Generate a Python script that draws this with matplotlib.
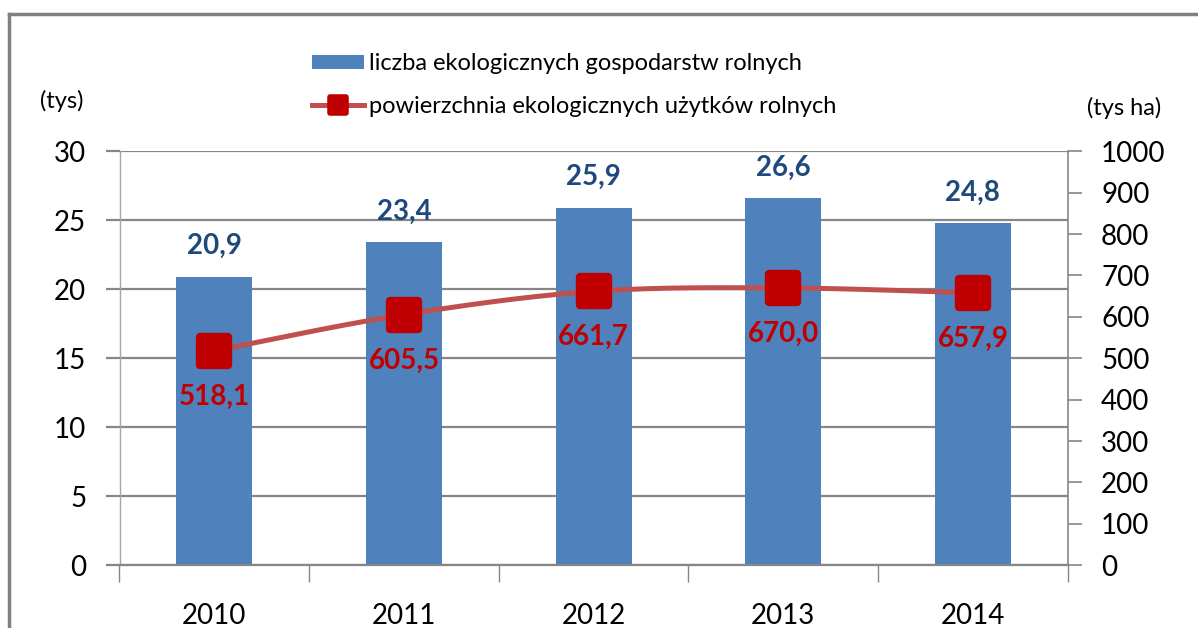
import numpy as np
import matplotlib
matplotlib.use("Agg")
import matplotlib.pyplot as plt
from matplotlib.lines import Line2D
from matplotlib.patches import Patch
from matplotlib.markers import MarkerStyle

plt.rcParams['font.family'] = ['Lato', 'DejaVu Sans']

years = ['2010', '2011', '2012', '2013', '2014']
farms = [20.9, 23.4, 25.9, 26.6, 24.8]          # tys
area = [518.1, 605.5, 661.7, 670.0, 657.9]       # tys ha
farm_labels = ['20,9', '23,4', '25,9', '26,6', '24,8']
area_labels = ['518,1', '605,5', '661,7', '670,0', '657,9']
left_ticks = [0, 5, 10, 15, 20, 25, 30]
right_ticks = [0, 100, 200, 300, 400, 500, 600, 700, 800, 900, 1000]
legend_labels = ['liczba ekologicznych gospodarstw rolnych',
                 'powierzchnia ekologicznych użytków rolnych']

BAR = '#4F81BD'
LINE = '#C0504D'
MARK = '#C00000'
NAVY = '#1F497D'
GRID = '#868686'

W, H = 1198, 628
fig = plt.figure(figsize=(W / 100, H / 100), dpi=100)
ax = fig.add_axes([119.5 / W, 1 - 565.3 / H, (1067.7 - 119.5) / W, (565.3 - 151.3) / H])

x = np.arange(len(years))
ax.bar(x, farms, width=0.4, color=BAR, zorder=2)
ax.set_xlim(-0.5, len(years) - 0.5)
ax.set_ylim(0, 30)
ax.set_yticks(left_ticks)
ax.set_yticklabels([str(t) for t in left_ticks])
ax.yaxis.grid(True, color=GRID, linewidth=1.6, zorder=0)
ax.set_axisbelow(True)
ax.tick_params(axis='y', length=10, width=1.6, color=GRID, pad=14, labelsize=20)
ax.set_xticks(x)
ax.set_xticklabels(years)
ax.tick_params(axis='x', length=0, pad=27, labelsize=20)
ax.set_xticks(np.arange(len(years) + 1) - 0.5, minor=True)
ax.tick_params(axis='x', which='minor', length=12, width=1, color=GRID)
for s in ['top', 'right']:
    ax.spines[s].set_visible(False)
ax.spines['left'].set_color('#A6A6A6')
ax.spines['left'].set_linewidth(1)
ax.spines['bottom'].set_color(GRID)
ax.spines['bottom'].set_linewidth(1.6)

for xi, v, lab in zip(x, farms, farm_labels):
    ax.annotate(lab, (xi, v), xytext=(0, 22), textcoords='offset points',
                ha='center', va='center', fontsize=20, fontweight='bold', color=NAVY)

ax2 = ax.twinx()
ax2.set_ylim(0, 1000)
ax2.set_yticks(right_ticks)
ax2.set_yticklabels([str(t) for t in right_ticks])
ax2.tick_params(axis='y', length=10, width=1.2, color=GRID, pad=14, labelsize=20)
for s in ['top', 'left', 'bottom']:
    ax2.spines[s].set_visible(False)
ax2.spines['right'].set_color(GRID)
ax2.spines['right'].set_linewidth(1.2)

# smoothed line (Catmull-Rom like Excel smoothing)
px = x.astype(float)
py = np.array(area, dtype=float)
cx, cy = [], []
n = len(px)
for i in range(n - 1):
    p0 = (px[max(i - 1, 0)], py[max(i - 1, 0)])
    p1 = (px[i], py[i])
    p2 = (px[i + 1], py[i + 1])
    p3 = (px[min(i + 2, n - 1)], py[min(i + 2, n - 1)])
    b1 = (p1[0] + (p2[0] - p0[0]) / 6, p1[1] + (p2[1] - p0[1]) / 6)
    b2 = (p2[0] - (p3[0] - p1[0]) / 6, p2[1] - (p3[1] - p1[1]) / 6)
    t = np.linspace(0, 1, 40)
    for a, c in ((0, cx), (1, cy)):
        c.extend((1 - t) ** 3 * p1[a] + 3 * (1 - t) ** 2 * t * b1[a]
                 + 3 * (1 - t) * t ** 2 * b2[a] + t ** 3 * p2[a])
ax2.plot(cx, cy, color=LINE, linewidth=3.6, solid_capstyle='butt', zorder=3)
mk = MarkerStyle('s', joinstyle='round')
ax2.plot(x, area, linestyle='none', marker=mk, markersize=20, markerfacecolor=MARK,
         markeredgecolor=MARK, markeredgewidth=6, zorder=4)
for xi, v, lab in zip(x, area, area_labels):
    ax2.annotate(lab, (xi, v), xytext=(0, -33), textcoords='offset points',
                 ha='center', va='center', fontsize=20, fontweight='bold', color=MARK, zorder=5)

# unit labels
fig.text(62 / W, 1 - 101 / H, '(tys)', ha='center', va='center', fontsize=17)
fig.text(1124 / W, 1 - 108 / H, '(tys ha)', ha='center', va='center', fontsize=17)

# legend
h1 = Patch(facecolor=BAR, edgecolor='none')
h2 = Line2D([], [], color=LINE, linewidth=3.6, marker=MarkerStyle('s', joinstyle='round'),
            markersize=11, markerfacecolor=MARK, markeredgecolor=MARK, markeredgewidth=4)
fig.legend([h1, h2], legend_labels, loc='center left',
           bbox_to_anchor=(312 / W, 1 - 85 / H), frameon=False, fontsize=17,
           handlelength=2.2, handleheight=0.55, handletextpad=0.2, labelspacing=0.9,
           borderpad=0, borderaxespad=0)

# outer frame
fig.add_artist(Line2D([8.5 / W, 8.5 / W], [0, 1 - 13.5 / H], transform=fig.transFigure,
                      color='#808080', linewidth=2.5))
fig.add_artist(Line2D([8.5 / W, 1], [1 - 13.5 / H, 1 - 13.5 / H], transform=fig.transFigure,
                      color='#808080', linewidth=2.5))

fig.savefig('out.png', dpi=100, facecolor='white')
